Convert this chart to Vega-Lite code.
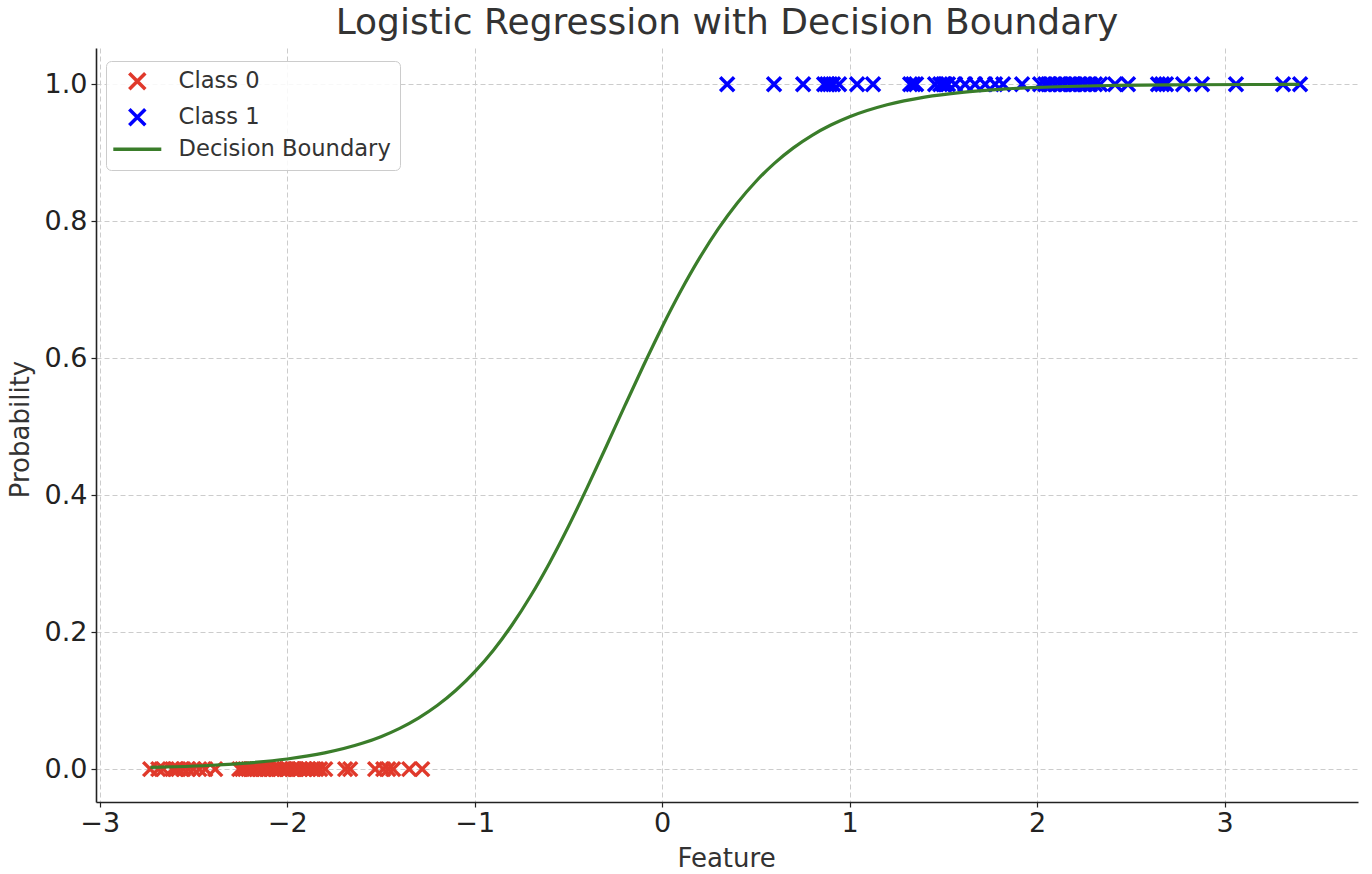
{
  "$schema": "https://vega.github.io/schema/vega-lite/v6.json",
  "width": 1262,
  "height": 754,
  "autosize": "none",
  "padding": {"left": 96, "top": 48, "right": 14, "bottom": 72},
  "background": "white",
  "title": {
    "text": "Logistic Regression with Decision Boundary",
    "font": "DejaVu Sans",
    "fontSize": 36,
    "fontWeight": "normal",
    "color": "#333333",
    "anchor": "middle",
    "baseline": "alphabetic",
    "offset": 12,
    "dy": 34
  },
  "config": {
    "view": {"stroke": null},
    "font": "DejaVu Sans",
    "axis": {
      "labelFont": "DejaVu Sans",
      "titleFont": "DejaVu Sans",
      "labelFontSize": 27,
      "titleFontSize": 26,
      "labelColor": "#222222",
      "titleColor": "#333333",
      "titleFontWeight": "normal",
      "domainColor": "#222222",
      "domainWidth": 1.6,
      "tickColor": "#222222",
      "tickWidth": 1.2,
      "tickSize": 5,
      "gridColor": "#cccccc",
      "gridWidth": 1,
      "gridDash": [5, 3]
    },
    "legend": {
      "orient": "none",
      "legendX": 10,
      "legendY": 13,
      "padding": 9,
      "fillColor": "rgba(255,255,255,0.85)",
      "strokeColor": "#cccccc",
      "cornerRadius": 5,
      "labelFont": "DejaVu Sans",
      "labelFontSize": 22.6,
      "labelColor": "#333333",
      "labelLimit": 400,
      "symbolSize": 256,
      "symbolStrokeWidth": 3.5,
      "symbolOffset": 11,
      "labelOffset": 30,
      "rowPadding": 5
    }
  },
  "data": {
    "values": [
      {"x": -2.731, "y": 0, "s": "Class 0"},
      {"x": -2.688, "y": 0, "s": "Class 0"},
      {"x": -2.661, "y": 0, "s": "Class 0"},
      {"x": -2.613, "y": 0, "s": "Class 0"},
      {"x": -2.595, "y": 0, "s": "Class 0"},
      {"x": -2.581, "y": 0, "s": "Class 0"},
      {"x": -2.555, "y": 0, "s": "Class 0"},
      {"x": -2.528, "y": 0, "s": "Class 0"},
      {"x": -2.501, "y": 0, "s": "Class 0"},
      {"x": -2.469, "y": 0, "s": "Class 0"},
      {"x": -2.437, "y": 0, "s": "Class 0"},
      {"x": -2.384, "y": 0, "s": "Class 0"},
      {"x": -2.256, "y": 0, "s": "Class 0"},
      {"x": -2.240, "y": 0, "s": "Class 0"},
      {"x": -2.225, "y": 0, "s": "Class 0"},
      {"x": -2.208, "y": 0, "s": "Class 0"},
      {"x": -2.195, "y": 0, "s": "Class 0"},
      {"x": -2.187, "y": 0, "s": "Class 0"},
      {"x": -2.165, "y": 0, "s": "Class 0"},
      {"x": -2.150, "y": 0, "s": "Class 0"},
      {"x": -2.144, "y": 0, "s": "Class 0"},
      {"x": -2.123, "y": 0, "s": "Class 0"},
      {"x": -2.110, "y": 0, "s": "Class 0"},
      {"x": -2.101, "y": 0, "s": "Class 0"},
      {"x": -2.080, "y": 0, "s": "Class 0"},
      {"x": -2.065, "y": 0, "s": "Class 0"},
      {"x": -2.059, "y": 0, "s": "Class 0"},
      {"x": -2.037, "y": 0, "s": "Class 0"},
      {"x": -2.016, "y": 0, "s": "Class 0"},
      {"x": -2.005, "y": 0, "s": "Class 0"},
      {"x": -1.995, "y": 0, "s": "Class 0"},
      {"x": -1.973, "y": 0, "s": "Class 0"},
      {"x": -1.960, "y": 0, "s": "Class 0"},
      {"x": -1.952, "y": 0, "s": "Class 0"},
      {"x": -1.931, "y": 0, "s": "Class 0"},
      {"x": -1.909, "y": 0, "s": "Class 0"},
      {"x": -1.905, "y": 0, "s": "Class 0"},
      {"x": -1.888, "y": 0, "s": "Class 0"},
      {"x": -1.867, "y": 0, "s": "Class 0"},
      {"x": -1.845, "y": 0, "s": "Class 0"},
      {"x": -1.824, "y": 0, "s": "Class 0"},
      {"x": -1.797, "y": 0, "s": "Class 0"},
      {"x": -1.691, "y": 0, "s": "Class 0"},
      {"x": -1.664, "y": 0, "s": "Class 0"},
      {"x": -1.531, "y": 0, "s": "Class 0"},
      {"x": -1.488, "y": 0, "s": "Class 0"},
      {"x": -1.461, "y": 0, "s": "Class 0"},
      {"x": -1.435, "y": 0, "s": "Class 0"},
      {"x": -1.349, "y": 0, "s": "Class 0"},
      {"x": -1.280, "y": 0, "s": "Class 0"},
      {"x": 0.347, "y": 1, "s": "Class 1"},
      {"x": 0.597, "y": 1, "s": "Class 1"},
      {"x": 0.752, "y": 1, "s": "Class 1"},
      {"x": 0.864, "y": 1, "s": "Class 1"},
      {"x": 0.880, "y": 1, "s": "Class 1"},
      {"x": 0.896, "y": 1, "s": "Class 1"},
      {"x": 0.912, "y": 1, "s": "Class 1"},
      {"x": 0.944, "y": 1, "s": "Class 1"},
      {"x": 1.040, "y": 1, "s": "Class 1"},
      {"x": 1.125, "y": 1, "s": "Class 1"},
      {"x": 1.323, "y": 1, "s": "Class 1"},
      {"x": 1.339, "y": 1, "s": "Class 1"},
      {"x": 1.355, "y": 1, "s": "Class 1"},
      {"x": 1.456, "y": 1, "s": "Class 1"},
      {"x": 1.483, "y": 1, "s": "Class 1"},
      {"x": 1.500, "y": 1, "s": "Class 1"},
      {"x": 1.509, "y": 1, "s": "Class 1"},
      {"x": 1.525, "y": 1, "s": "Class 1"},
      {"x": 1.563, "y": 1, "s": "Class 1"},
      {"x": 1.616, "y": 1, "s": "Class 1"},
      {"x": 1.669, "y": 1, "s": "Class 1"},
      {"x": 1.723, "y": 1, "s": "Class 1"},
      {"x": 1.776, "y": 1, "s": "Class 1"},
      {"x": 1.819, "y": 1, "s": "Class 1"},
      {"x": 1.920, "y": 1, "s": "Class 1"},
      {"x": 2.016, "y": 1, "s": "Class 1"},
      {"x": 2.043, "y": 1, "s": "Class 1"},
      {"x": 2.060, "y": 1, "s": "Class 1"},
      {"x": 2.069, "y": 1, "s": "Class 1"},
      {"x": 2.096, "y": 1, "s": "Class 1"},
      {"x": 2.123, "y": 1, "s": "Class 1"},
      {"x": 2.149, "y": 1, "s": "Class 1"},
      {"x": 2.176, "y": 1, "s": "Class 1"},
      {"x": 2.190, "y": 1, "s": "Class 1"},
      {"x": 2.203, "y": 1, "s": "Class 1"},
      {"x": 2.229, "y": 1, "s": "Class 1"},
      {"x": 2.256, "y": 1, "s": "Class 1"},
      {"x": 2.283, "y": 1, "s": "Class 1"},
      {"x": 2.309, "y": 1, "s": "Class 1"},
      {"x": 2.336, "y": 1, "s": "Class 1"},
      {"x": 2.416, "y": 1, "s": "Class 1"},
      {"x": 2.485, "y": 1, "s": "Class 1"},
      {"x": 2.645, "y": 1, "s": "Class 1"},
      {"x": 2.667, "y": 1, "s": "Class 1"},
      {"x": 2.688, "y": 1, "s": "Class 1"},
      {"x": 2.779, "y": 1, "s": "Class 1"},
      {"x": 2.880, "y": 1, "s": "Class 1"},
      {"x": 3.061, "y": 1, "s": "Class 1"},
      {"x": 3.312, "y": 1, "s": "Class 1"},
      {"x": 3.403, "y": 1, "s": "Class 1"},
      {"x": -2.73, "y": 0.0026, "s": "Decision Boundary"},
      {"x": -2.6, "y": 0.0035, "s": "Decision Boundary"},
      {"x": -2.4, "y": 0.0057, "s": "Decision Boundary"},
      {"x": -2.2, "y": 0.0092, "s": "Decision Boundary"},
      {"x": -2.0, "y": 0.0148, "s": "Decision Boundary"},
      {"x": -1.8, "y": 0.0237, "s": "Decision Boundary"},
      {"x": -1.6, "y": 0.0377, "s": "Decision Boundary"},
      {"x": -1.5, "y": 0.0474, "s": "Decision Boundary"},
      {"x": -1.4, "y": 0.0595, "s": "Decision Boundary"},
      {"x": -1.3, "y": 0.0745, "s": "Decision Boundary"},
      {"x": -1.2, "y": 0.0928, "s": "Decision Boundary"},
      {"x": -1.1, "y": 0.1151, "s": "Decision Boundary"},
      {"x": -1.0, "y": 0.1419, "s": "Decision Boundary"},
      {"x": -0.9, "y": 0.1736, "s": "Decision Boundary"},
      {"x": -0.8, "y": 0.2108, "s": "Decision Boundary"},
      {"x": -0.7, "y": 0.2535, "s": "Decision Boundary"},
      {"x": -0.6, "y": 0.3015, "s": "Decision Boundary"},
      {"x": -0.5, "y": 0.3543, "s": "Decision Boundary"},
      {"x": -0.4, "y": 0.4110, "s": "Decision Boundary"},
      {"x": -0.3, "y": 0.4700, "s": "Decision Boundary"},
      {"x": -0.2, "y": 0.5300, "s": "Decision Boundary"},
      {"x": -0.1, "y": 0.5890, "s": "Decision Boundary"},
      {"x": 0.0, "y": 0.6457, "s": "Decision Boundary"},
      {"x": 0.1, "y": 0.6985, "s": "Decision Boundary"},
      {"x": 0.2, "y": 0.7465, "s": "Decision Boundary"},
      {"x": 0.3, "y": 0.7892, "s": "Decision Boundary"},
      {"x": 0.4, "y": 0.8264, "s": "Decision Boundary"},
      {"x": 0.5, "y": 0.8581, "s": "Decision Boundary"},
      {"x": 0.6, "y": 0.8849, "s": "Decision Boundary"},
      {"x": 0.7, "y": 0.9072, "s": "Decision Boundary"},
      {"x": 0.8, "y": 0.9255, "s": "Decision Boundary"},
      {"x": 0.9, "y": 0.9405, "s": "Decision Boundary"},
      {"x": 1.0, "y": 0.9526, "s": "Decision Boundary"},
      {"x": 1.2, "y": 0.9701, "s": "Decision Boundary"},
      {"x": 1.4, "y": 0.9813, "s": "Decision Boundary"},
      {"x": 1.6, "y": 0.9883, "s": "Decision Boundary"},
      {"x": 1.8, "y": 0.9927, "s": "Decision Boundary"},
      {"x": 2.0, "y": 0.9955, "s": "Decision Boundary"},
      {"x": 2.4, "y": 0.9983, "s": "Decision Boundary"},
      {"x": 2.8, "y": 0.9993, "s": "Decision Boundary"},
      {"x": 3.2, "y": 0.9997, "s": "Decision Boundary"},
      {"x": 3.4, "y": 0.9998, "s": "Decision Boundary"}
    ]
  },
  "encoding": {
    "x": {
      "field": "x",
      "type": "quantitative",
      "scale": {"domain": [-3.02, 3.712], "nice": false, "zero": false},
      "axis": {
        "title": "Feature",
        "values": [-3, -2, -1, 0, 1, 2, 3],
        "format": "d",
        "labelPadding": 3,
        "titleX": 630,
        "titleY": 64,
        "titleBaseline": "alphabetic",
        "titleAlign": "center"
      }
    },
    "y": {
      "field": "y",
      "type": "quantitative",
      "scale": {"domain": [-0.048, 1.053], "nice": false, "zero": false},
      "axis": {
        "title": "Probability",
        "values": [0, 0.2, 0.4, 0.6, 0.8, 1.0],
        "format": ".1f",
        "labelPadding": 4,
        "titleX": -76,
        "titleY": 381,
        "titleBaseline": "middle",
        "titleAlign": "center",
        "titleAngle": -90
      }
    },
    "color": {
      "field": "s",
      "type": "nominal",
      "title": null,
      "scale": {
        "domain": ["Class 0", "Class 1", "Decision Boundary"],
        "range": ["#e0392b", "#0000ff", "#3a7d2a"]
      }
    }
  },
  "layer": [
    {
      "transform": [{"filter": "datum.s !== 'Decision Boundary'"}],
      "mark": {"type": "point", "filled": false, "strokeWidth": 3.5, "size": 196, "opacity": 1},
      "encoding": {
        "shape": {
          "field": "s",
          "type": "nominal",
          "title": null,
          "scale": {
            "domain": ["Class 0", "Class 1", "Decision Boundary"],
            "range": ["M-1,-1L1,1M-1,1L1,-1", "M-1,-1L1,1M-1,1L1,-1", "M-3,0L3,0"]
          }
        }
      }
    },
    {
      "transform": [{"filter": "datum.s === 'Decision Boundary'"}],
      "mark": {"type": "line", "strokeWidth": 3.2, "interpolate": "monotone"},
      "encoding": {}
    }
  ]
}
